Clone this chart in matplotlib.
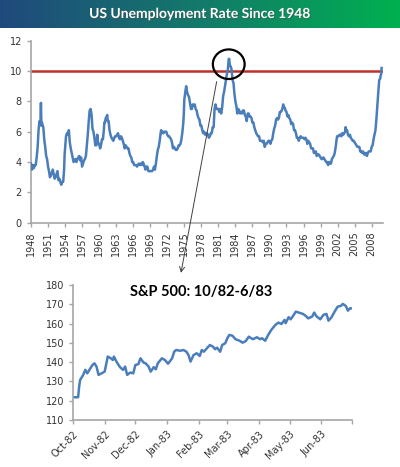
import numpy as np
import pandas as pd
import matplotlib
matplotlib.use("Agg")
import matplotlib.pyplot as plt
import matplotlib.dates as mdates
import matplotlib.patheffects as pe
from matplotlib.patches import Ellipse, ConnectionPatch
from matplotlib.colors import LinearSegmentedColormap

# US unemployment rate, read roughly every two months (decimal year, %)
unemp_year = [
    1948.0, 1948.17, 1948.33, 1948.5, 1948.67, 1948.83,
    1949.0, 1949.17, 1949.33, 1949.5, 1949.67, 1949.75, 1949.83, 1949.92,
    1950.0, 1950.17, 1950.33, 1950.5, 1950.67, 1950.83,
    1951.0, 1951.17, 1951.33, 1951.5, 1951.67, 1951.83,
    1952.0, 1952.17, 1952.33, 1952.5, 1952.67, 1952.83,
    1953.0, 1953.17, 1953.33, 1953.5, 1953.67, 1953.83, 1953.92,
    1954.0, 1954.17, 1954.33, 1954.5, 1954.67, 1954.83,
    1955.0, 1955.17, 1955.33, 1955.5, 1955.67, 1955.83,
    1956.0, 1956.17, 1956.33, 1956.5, 1956.67, 1956.83,
    1957.0, 1957.17, 1957.33, 1957.5, 1957.67, 1957.83,
    1958.0, 1958.17, 1958.33, 1958.5, 1958.67, 1958.83,
    1959.0, 1959.17, 1959.33, 1959.5, 1959.67, 1959.83,
    1960.0, 1960.17, 1960.33, 1960.5, 1960.67, 1960.83, 1960.92,
    1961.0, 1961.17, 1961.33, 1961.42, 1961.5, 1961.67, 1961.83,
    1962.0, 1962.17, 1962.33, 1962.5, 1962.67, 1962.83,
    1963.0, 1963.17, 1963.33, 1963.5, 1963.67, 1963.83,
    1964.0, 1964.17, 1964.33, 1964.5, 1964.67, 1964.83,
    1965.0, 1965.17, 1965.33, 1965.5, 1965.67, 1965.83,
    1966.0, 1966.17, 1966.33, 1966.5, 1966.67, 1966.83,
    1967.0, 1967.17, 1967.33, 1967.5, 1967.67, 1967.83,
    1968.0, 1968.17, 1968.33, 1968.5, 1968.67, 1968.83,
    1969.0, 1969.17, 1969.33, 1969.5, 1969.67, 1969.83,
    1970.0, 1970.17, 1970.33, 1970.5, 1970.67, 1970.83, 1970.92,
    1971.0, 1971.17, 1971.33, 1971.5, 1971.67, 1971.83,
    1972.0, 1972.17, 1972.33, 1972.5, 1972.67, 1972.83,
    1973.0, 1973.17, 1973.33, 1973.5, 1973.67, 1973.83,
    1974.0, 1974.17, 1974.33, 1974.5, 1974.67, 1974.83, 1974.92,
    1975.0, 1975.17, 1975.33, 1975.5, 1975.67, 1975.83,
    1976.0, 1976.17, 1976.33, 1976.5, 1976.67, 1976.83,
    1977.0, 1977.17, 1977.33, 1977.5, 1977.67, 1977.83,
    1978.0, 1978.17, 1978.33, 1978.5, 1978.67, 1978.83,
    1979.0, 1979.17, 1979.33, 1979.5, 1979.67, 1979.83,
    1980.0, 1980.17, 1980.33, 1980.5, 1980.67, 1980.83,
    1981.0, 1981.17, 1981.33, 1981.5, 1981.67, 1981.83, 1981.92,
    1982.0, 1982.17, 1982.33, 1982.5, 1982.67, 1982.83, 1982.92,
    1983.0, 1983.17, 1983.33, 1983.5, 1983.67, 1983.83,
    1984.0, 1984.17, 1984.33, 1984.5, 1984.67, 1984.83,
    1985.0, 1985.17, 1985.33, 1985.5, 1985.67, 1985.83,
    1986.0, 1986.17, 1986.33, 1986.5, 1986.67, 1986.83,
    1987.0, 1987.17, 1987.33, 1987.5, 1987.67, 1987.83,
    1988.0, 1988.17, 1988.33, 1988.5, 1988.67, 1988.83,
    1989.0, 1989.17, 1989.33, 1989.5, 1989.67, 1989.83,
    1990.0, 1990.17, 1990.33, 1990.5, 1990.67, 1990.83,
    1991.0, 1991.17, 1991.33, 1991.5, 1991.67, 1991.83,
    1992.0, 1992.17, 1992.33, 1992.42, 1992.5, 1992.67, 1992.83,
    1993.0, 1993.17, 1993.33, 1993.5, 1993.67, 1993.83,
    1994.0, 1994.17, 1994.33, 1994.5, 1994.67, 1994.83,
    1995.0, 1995.17, 1995.33, 1995.5, 1995.67, 1995.83,
    1996.0, 1996.17, 1996.33, 1996.5, 1996.67, 1996.83,
    1997.0, 1997.17, 1997.33, 1997.5, 1997.67, 1997.83,
    1998.0, 1998.17, 1998.33, 1998.5, 1998.67, 1998.83,
    1999.0, 1999.17, 1999.33, 1999.5, 1999.67, 1999.83,
    2000.0, 2000.17, 2000.33, 2000.5, 2000.67, 2000.83,
    2001.0, 2001.17, 2001.33, 2001.5, 2001.67, 2001.83, 2001.92,
    2002.0, 2002.17, 2002.33, 2002.5, 2002.67, 2002.83,
    2003.0, 2003.17, 2003.33, 2003.42, 2003.5, 2003.67, 2003.83,
    2004.0, 2004.17, 2004.33, 2004.5, 2004.67, 2004.83,
    2005.0, 2005.17, 2005.33, 2005.5, 2005.67, 2005.83,
    2006.0, 2006.17, 2006.33, 2006.5, 2006.67, 2006.83,
    2007.0, 2007.17, 2007.33, 2007.5, 2007.67, 2007.83,
    2008.0, 2008.17, 2008.33, 2008.5, 2008.67, 2008.83, 2008.92,
    2009.0, 2009.17, 2009.33, 2009.5, 2009.58, 2009.67, 2009.75,
]
unemp_rate = [
    3.9, 3.5, 3.8, 3.6, 3.8, 3.8,
    4.3, 5.0, 6.1, 6.7, 6.6, 7.9, 6.4, 6.6,
    6.5, 6.3, 5.5, 5.0, 4.4, 4.2,
    3.7, 3.4, 3.0, 3.1, 3.3, 3.5,
    3.2, 2.9, 3.0, 3.2, 3.4, 2.8,
    2.9, 2.7, 2.5, 2.7, 2.7, 3.5, 4.5,
    4.9, 5.7, 5.9, 5.8, 6.1, 5.3,
    4.9, 4.6, 4.3, 4.0, 4.1, 4.2,
    4.0, 4.2, 4.3, 4.4, 4.1, 4.3,
    3.7, 3.9, 4.1, 4.2, 4.4, 5.1,
    5.8, 6.7, 7.4, 7.5, 7.1, 6.2,
    6.0, 5.6, 5.1, 5.1, 5.8, 5.2,
    5.2, 4.9, 5.1, 5.5, 5.5, 6.1, 6.6,
    6.6, 6.9, 7.0, 7.1, 6.7, 6.7, 6.1,
    5.8, 5.6, 5.5, 5.4, 5.6, 5.7,
    5.7, 5.8, 5.9, 5.6, 5.5, 5.7,
    5.6, 5.4, 5.2, 4.9, 5.1, 5.0,
    4.9, 4.9, 4.6, 4.4, 4.3, 4.0,
    4.0, 3.8, 3.8, 3.8, 3.7, 3.8,
    3.9, 3.8, 3.9, 3.8, 4.0, 3.9,
    3.7, 3.5, 3.7, 3.7, 3.4, 3.4,
    3.4, 3.4, 3.4, 3.5, 3.7, 3.5,
    3.9, 4.4, 4.8, 5.0, 5.4, 5.9, 6.1,
    5.9, 6.0, 5.9, 6.0, 6.0, 6.0,
    5.8, 5.7, 5.7, 5.6, 5.5, 5.3,
    4.9, 5.0, 4.9, 4.8, 4.8, 4.9,
    5.1, 5.1, 5.2, 5.5, 6.0, 6.6, 7.2,
    8.1, 8.6, 9.0, 8.6, 8.4, 8.3,
    7.9, 7.5, 7.5, 7.8, 7.7, 7.8,
    7.5, 7.4, 7.1, 6.9, 6.8, 6.4,
    6.4, 6.1, 5.9, 6.0, 5.8, 5.9,
    5.9, 5.8, 5.6, 5.7, 5.9, 5.9,
    6.3, 6.3, 7.5, 7.8, 7.5, 7.5,
    7.5, 7.3, 7.5, 7.2, 7.6, 8.3, 8.5,
    8.6, 9.0, 9.4, 9.8, 10.1, 10.8, 10.8,
    10.4, 10.3, 10.1, 9.4, 9.2, 8.5,
    8.0, 7.7, 7.2, 7.5, 7.4, 7.2,
    7.3, 7.2, 7.4, 7.4, 7.1, 7.0,
    6.7, 7.2, 7.2, 7.0, 7.0, 6.9,
    6.6, 6.6, 6.3, 6.1, 5.9, 5.8,
    5.7, 5.7, 5.4, 5.4, 5.4, 5.3,
    5.4, 5.0, 5.2, 5.2, 5.3, 5.4,
    5.4, 5.2, 5.4, 5.5, 5.9, 6.2,
    6.4, 6.8, 6.9, 6.8, 6.9, 7.3,
    7.3, 7.4, 7.6, 7.8, 7.6, 7.6, 7.4,
    7.3, 7.0, 7.1, 6.9, 6.8, 6.5,
    6.6, 6.5, 6.1, 6.1, 5.9, 5.6,
    5.6, 5.4, 5.6, 5.7, 5.6, 5.6,
    5.6, 5.5, 5.6, 5.5, 5.2, 5.4,
    5.3, 5.2, 4.9, 4.9, 4.9, 4.6,
    4.6, 4.7, 4.4, 4.5, 4.5, 4.4,
    4.3, 4.2, 4.2, 4.3, 4.2, 4.1,
    4.0, 4.0, 3.8, 4.0, 3.9, 3.9,
    4.2, 4.3, 4.4, 4.6, 5.0, 5.5, 5.7,
    5.7, 5.7, 5.8, 5.8, 5.7, 5.9,
    5.8, 5.9, 6.0, 6.3, 6.1, 6.1, 5.8,
    5.7, 5.8, 5.6, 5.5, 5.4, 5.4,
    5.3, 5.2, 5.1, 5.0, 5.0, 5.0,
    4.7, 4.7, 4.6, 4.7, 4.5, 4.5,
    4.6, 4.4, 4.6, 4.7, 4.7, 4.7,
    5.0, 5.1, 5.5, 5.8, 6.1, 6.8, 7.3,
    7.8, 8.6, 9.4, 9.5, 9.7, 9.8, 10.2,
]
year_ticks = list(range(1948, 2009, 3))
red_level = 10

# S&P 500, Oct-82 to Jun-83 (days after 1982-10-01, close)
sp_day = [0, 5, 6, 7, 10, 12, 14, 17, 19, 21, 23, 25, 28, 31, 32, 34, 37, 39, 40,
          43, 46, 49, 51, 53, 56, 59, 61, 64, 66, 69, 71, 74, 76, 79, 81, 83, 87,
          90, 93, 97, 99, 101, 105, 108, 111, 113, 115, 118, 121, 124, 126, 128,
          131, 134, 137, 139, 141, 144, 146, 149, 151, 153, 156, 159, 163, 166,
          169, 172, 176, 180, 183, 185, 188, 191, 194, 198, 201, 204, 207, 208,
          211, 213, 216, 218, 221, 225, 228, 230, 234, 236, 238, 242, 245, 248,
          250, 253, 256, 259, 262, 264, 267, 269, 271, 272]
sp_close = [121.8, 121.8, 127.3, 130.8, 133.4, 136.0, 134.2, 136.8, 138.5, 139.4,
            137.7, 133.4, 134.2, 135.1, 137.7, 142.9, 142.0, 141.1, 142.9, 139.8,
            137.4, 136.0, 137.7, 133.4, 134.6, 134.2, 138.5, 139.0, 142.0, 139.8,
            139.4, 137.7, 135.1, 137.4, 136.3, 139.4, 142.0, 141.1, 139.2, 142.0,
            145.4, 146.3, 145.9, 146.3, 145.4, 143.7, 140.3, 143.7, 144.6, 143.2,
            146.3, 145.4, 147.2, 148.9, 148.0, 146.7, 147.5, 145.4, 148.9, 149.8,
            152.4, 154.1, 153.7, 151.9, 151.1, 150.1, 150.9, 153.2, 151.9, 152.9,
            151.9, 152.4, 151.1, 154.1, 156.7, 159.3, 160.5, 159.8, 161.9, 160.2,
            163.3, 162.2, 164.5, 166.2, 165.7, 165.0, 163.9, 162.7, 163.6, 165.7,
            163.9, 162.2, 164.5, 165.0, 161.5, 163.3, 166.2, 168.8, 169.1, 170.2,
            169.1, 166.7, 167.9, 167.9]

title = "US Unemployment Rate Since 1948"
inset_title = "S&P 500: 10/82-6/83"

blue = "#4a7ebb"
axis_gray = "#a6a6a6"
label_col = "#333333"

fig = plt.figure(figsize=(4.0, 4.67), dpi=100)
fig.patch.set_facecolor("white")

# title banner with blue -> green gradient
bax = fig.add_axes([0, 1 - 28 / 467, 1, 28 / 467])
cmap = LinearSegmentedColormap.from_list("band", ["#1f497d", "#137a6a", "#00b050"])
bax.imshow(np.linspace(0, 1, 256).reshape(1, -1), aspect="auto", cmap=cmap,
           extent=[0, 1, 0, 1])
bax.set_axis_off()
bax.text(0.5, 0.5, title, color="white", fontsize=10, fontweight="bold",
         family="Lato", ha="center", va="center",
         path_effects=[pe.withSimplePatchShadow(offset=(0.8, -0.8), alpha=0.5)])


def style_axes(ax):
    for s in ["top", "right"]:
        ax.spines[s].set_visible(False)
    for s in ["left", "bottom"]:
        ax.spines[s].set_color(axis_gray)
        ax.spines[s].set_linewidth(1.2)
    ax.tick_params(colors=axis_gray, labelcolor=label_col, labelsize=7,
                   length=3, width=1, direction="out")


# main chart
ax1 = fig.add_axes([31 / 400, 1 - 222.7 / 467, 352 / 400, 182 / 467])
ax1.plot(unemp_year, unemp_rate, color=blue, lw=1.8, zorder=3)
ax1.axhline(red_level, color="#c0302b", lw=1.8, zorder=2)
ax1.set_xlim(1948, 2010)
ax1.set_ylim(0, 12)
ax1.set_yticks(range(0, 13, 2))
ax1.set_xticks(year_ticks)
ax1.set_xticklabels([str(y) for y in year_ticks], rotation=90)
style_axes(ax1)

peak_i = int(np.argmax(unemp_rate[:300]))
ax1.add_patch(Ellipse((unemp_year[peak_i], 10.45), 5.6, 1.95, fill=False,
                      ec="black", lw=1.6, zorder=4))

# inset S&P chart
ax2 = fig.add_axes([73 / 400, 1 - 420 / 467, 279 / 400, 135 / 467])
sp_dates = pd.Timestamp("1982-10-01") + pd.to_timedelta(sp_day, unit="D")
ax2.plot(sp_dates, sp_close, color=blue, lw=1.8)
ax2.set_xlim(pd.Timestamp("1982-10-01"), pd.Timestamp("1983-07-01"))
ax2.set_ylim(110, 180)
ax2.set_yticks(range(110, 181, 10))
month_ticks = pd.date_range("1982-10-01", "1983-07-01", freq="MS")
ax2.set_xticks(month_ticks)
ax2.set_xticklabels([d.strftime("%b-%y") if i < len(month_ticks) - 1 else ""
                     for i, d in enumerate(month_ticks)],
                    rotation=45, ha="right", rotation_mode="anchor")
style_axes(ax2)
ax2.text(0.46, 0.95, inset_title, transform=ax2.transAxes, ha="center",
         va="center", fontsize=10.5, fontweight="bold", family="Lato")

# arrow from the 1982 peak down to the inset
con = ConnectionPatch(xyA=(1980.7, 9.3), coordsA=ax1.transData,
                      xyB=(0.387, 1.09), coordsB=ax2.transAxes,
                      arrowstyle="->", color="#404040", lw=0.7,
                      mutation_scale=9)
fig.add_artist(con)

fig.savefig("out.png", dpi=100)
